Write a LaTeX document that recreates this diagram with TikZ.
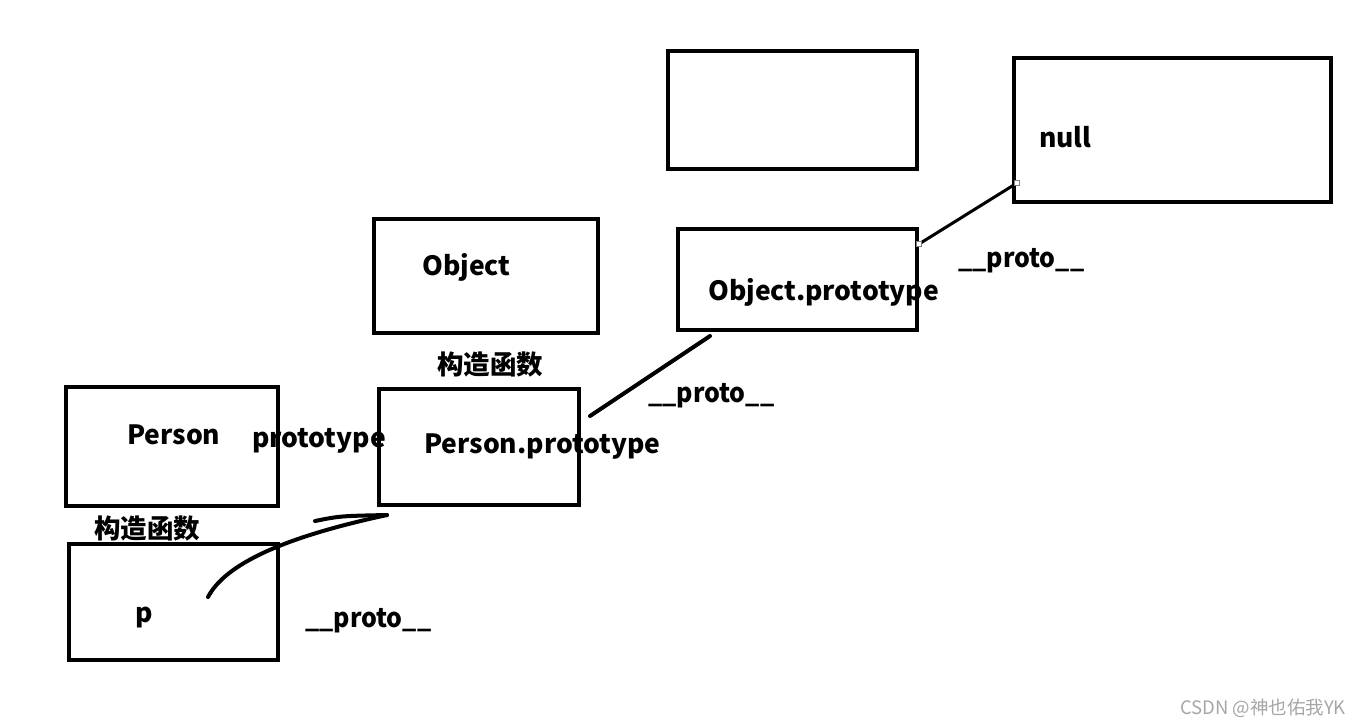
\documentclass[tikz,border=0pt]{standalone}
\usepackage{fontspec}
\setmainfont{Noto Sans CJK SC}
\usetikzlibrary{positioning}

\tikzset{
  box/.style={draw, line width=4, inner sep=0pt},
  lbl/.style={anchor=base west, inner sep=0pt, font=\fontsize{26.5}{30}\selectfont\bfseries},
  cjk/.style={inner sep=0pt, font=\fontsize{26.5}{30}\selectfont\bfseries},
  link/.style={line width=4, line cap=round},
  handle/.style={draw=gray, fill=white, line width=1, minimum size=5, inner sep=0pt}
}

\begin{document}
\begin{tikzpicture}[x=1pt, y=-1pt]
  \useasboundingbox (0,0) rectangle (1367,726);

  % the boxes
  \node[box, minimum width=212, minimum height=119] (person) at (172,446.5) {};
  \node[box, minimum width=209, minimum height=116] (p) at (173.5,602) {};
  \node[box, minimum width=224, minimum height=114] (object) at (486,276) {};
  \node[box, minimum width=200, minimum height=116] (personproto) at (479,447) {};
  \node[box, minimum width=249, minimum height=118] (blank) at (792.5,110) {};
  \node[box, minimum width=239, minimum height=101] (objectproto) at (797.5,279.5) {};
  \node[box, minimum width=317, minimum height=144] (null) at (1172.5,130) {};

  % texts
  \node[lbl] (personlbl) at (127,444) {Person};
  \node[lbl] (protolbl) at (252,447) {prototype};
  \node[lbl] (personprotolbl) at (424,453) {Person.prototype};
  \node[lbl] (objectlbl) at (422,275) {Object};
  \node[lbl] (objectprotolbl) at (708,300) {Object.prototype};
  \node[lbl] (nulllbl) at (1039,147) {null};
  \node[lbl] (plbl) at (135,622) {p};
  \node[cjk] (ctor1) at (147,528) {构造函数};
  \node[cjk] (ctor2) at (490,364) {构造函数};
  \node[lbl, xscale=0.94] (proto1) at (305,627) {\_\_proto\_\_};
  \node[lbl, xscale=0.94] (proto2) at (648,402) {\_\_proto\_\_};
  \node[lbl, xscale=0.94] (proto3) at (958,267) {\_\_proto\_\_};

  % the links
  \coordinate (pstart) at (208,597);
  \coordinate (ptip) at (387,515);
  \coordinate (pbarb) at (315,521);
  \coordinate (ppstart) at (590,416);
  \coordinate (opend) at (710,336);
  \coordinate (opstart) at (919,244);
  \coordinate (nullend) at (1017,183);

  \draw[link] (pstart) .. controls (225,565) and (280,538) .. (ptip);
  \draw[link] (pbarb) .. controls (340,516) .. (ptip);
  \draw[link] (ppstart) -- (opend);
  \draw[link, line width=3] (opstart) -- (nullend);
  \node[handle] (h1) at (opstart) {};
  \node[handle] (h2) at (nullend) {};

  \node[text=gray!70, font=\fontsize{18.5}{20}\selectfont] (mark) at (1263,708) {CSDN @神也佑我YK};
\end{tikzpicture}
\end{document}
